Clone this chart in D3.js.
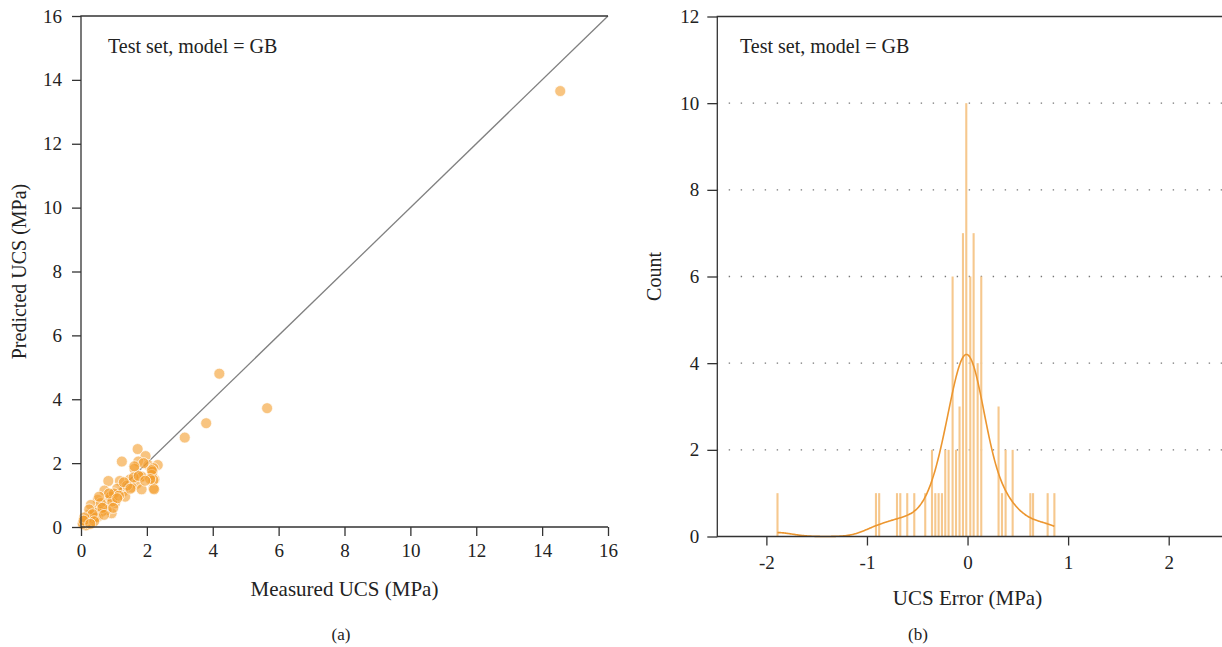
<!DOCTYPE html>
<html>
<head>
<meta charset="utf-8">
<script src="https://cdn.jsdelivr.net/npm/d3@7"></script>
<style>
  body { margin: 0; background: #fff; }
  text { font-family: "Liberation Serif", "DejaVu Serif", serif; fill: #222; }
</style>
</head>
<body>
<script>
// ---- panel (a): measured vs predicted UCS, test set ----
const measured = [14.55, 4.2, 5.65, 3.15, 3.8,
  1.72, 1.24, 1.96, 1.74, 2.04, 2.33, 2.20, 1.62, 2.17, 1.82, 0.83, 1.18, 1.49, 2.23, 1.69,
  1.54, 1.84, 2.20, 0.71, 0.93, 1.28, 1.34, 0.51, 0.83, 1.03, 0.30, 0.71, 0.53, 0.93, 0.78,
  0.22, 0.51, 0.22, 0.12, 0.07, 0.32, 0.37, 0.63, 2.15, 2.20, 1.84, 2.15, 2.22,
  0.42, 0.15, 0.05, 0.60, 0.90, 1.10, 1.00, 0.45, 0.95, 1.40, 1.60, 1.90, 0.25, 0.18, 0.35,
  1.15, 0.65, 1.30, 2.10, 1.75, 0.10, 0.85, 0.55, 0.08, 1.50, 1.95, 0.40, 0.28, 0.70, 1.10, 1.62, 0.98];
const predicted = [13.65, 4.8, 3.72, 2.8, 3.25,
  2.44, 2.05, 2.22, 2.05, 1.94, 1.94, 1.84, 1.82, 1.73, 1.56, 1.44, 1.44, 1.49, 1.49, 1.35,
  1.24, 1.18, 1.21, 1.14, 1.00, 1.11, 0.95, 0.85, 0.85, 0.74, 0.69, 0.64, 0.55, 0.43, 0.53,
  0.38, 0.32, 0.17, 0.22, 0.12, 0.12, 0.27, 0.48, 1.63, 1.47, 1.58, 1.78, 1.18,
  0.45, 0.05, 0.10, 0.75, 0.95, 1.20, 1.05, 0.30, 0.80, 1.30, 1.55, 2.00, 0.55, 0.25, 0.40,
  0.98, 0.60, 1.40, 1.50, 1.60, 0.30, 1.05, 0.95, 0.20, 1.20, 1.45, 0.18, 0.10, 0.38, 0.90, 1.90, 0.60];
const scatterTicks = [0, 2, 4, 6, 8, 10, 12, 14, 16];

// ---- panel (b): histogram of UCS error (bin centres, counts) ----
const errorBins = [-1.890, -0.911, -0.879, -0.702, -0.669, -0.600, -0.530, -0.421, -0.354, -0.321,
  -0.288, -0.255, -0.222, -0.189, -0.149, -0.115, -0.080, -0.046, -0.013, 0.027,
  0.060, 0.100, 0.136, 0.308, 0.342, 0.378, 0.448, 0.624, 0.651, 0.796, 0.863];
const errorCounts = [1, 1, 1, 1, 1, 1, 1, 1, 2, 1,
  1, 1, 2, 2, 6, 2, 3, 7, 10, 6,
  7, 4, 6, 3, 1, 2, 2, 1, 1, 1, 1];
const binWidth = 0.0336;
const errorTicks = [-2, -1, 0, 1, 2];
const countTicks = [0, 2, 4, 6, 8, 10, 12];

const W = 1222, H = 647;
const axisColor = "#333";

const svg = d3.select("body").append("svg")
  .attr("width", W).attr("height", H);

function styleAxis(g) {
  g.select(".domain").remove();
  g.selectAll(".tick line").attr("stroke", axisColor).attr("stroke-width", 1.3);
  g.selectAll(".tick text").style("font-size", "19px").attr("fill", "#222")
    .style("font-family", "'Liberation Serif', serif");
}

// ================= panel (a) =================
const xa = d3.scaleLinear().domain([0, 16]).range([81, 608]);
const ya = d3.scaleLinear().domain([0, 16]).range([527, 16]);

const ga = svg.append("g");

ga.append("line")
  .attr("x1", xa(0)).attr("y1", ya(0)).attr("x2", xa(16)).attr("y2", ya(16))
  .attr("stroke", "#808080").attr("stroke-width", 1.3);

ga.selectAll("circle.pt")
  .data(d3.range(measured.length))
  .enter().append("circle")
  .attr("class", "pt")
  .attr("cx", i => xa(measured[i]))
  .attr("cy", i => ya(predicted[i]))
  .attr("r", 5.5)
  .attr("fill", "#f39c2b")
  .attr("fill-opacity", 0.6)
  .attr("stroke", "#fff")
  .attr("stroke-width", 0.7);

ga.append("g").attr("transform", "translate(0,527)")
  .call(d3.axisBottom(xa).tickValues(scatterTicks).tickSize(9).tickPadding(8))
  .call(styleAxis);
ga.append("g").attr("transform", "translate(81,0)")
  .call(d3.axisLeft(ya).tickValues(scatterTicks).tickSize(9).tickPadding(10))
  .call(styleAxis);

// spines: left, bottom, top
ga.append("path")
  .attr("d", `M${xa(16)},${ya(16)}H${xa(0)}V${ya(0)}H${xa(16)}`)
  .attr("fill", "none").attr("stroke", axisColor).attr("stroke-width", 1.3);

ga.append("text").attr("x", 108).attr("y", 53)
  .style("font-size", "20px").text("Test set, model = GB");
ga.append("text").attr("x", (xa(0) + xa(16)) / 2).attr("y", 596)
  .attr("text-anchor", "middle").style("font-size", "21px").text("Measured UCS (MPa)");
ga.append("text").attr("transform", `translate(26,${(ya(0) + ya(16)) / 2}) rotate(-90)`)
  .attr("text-anchor", "middle").style("font-size", "20px").text("Predicted UCS (MPa)");
ga.append("text").attr("x", 341).attr("y", 640)
  .attr("text-anchor", "middle").style("font-size", "17px").text("(a)");

// ================= panel (b) =================
const xb = d3.scaleLinear().domain([-2.488, 2.53]).range([717.3, 1222]);
const yb = d3.scaleLinear().domain([0, 12]).range([536.5, 16.5]);

const gb = svg.append("g");

// dotted grid lines
gb.selectAll("line.grid")
  .data(countTicks.filter(v => v > 0 && v < 12))
  .enter().append("line")
  .attr("class", "grid")
  .attr("x1", xb.range()[0]).attr("x2", W)
  .attr("y1", d => yb(d)).attr("y2", d => yb(d))
  .attr("stroke", "#777").attr("stroke-width", 1.4)
  .attr("stroke-dasharray", "1.4 10.6")
  .attr("stroke-dashoffset", -11.4);

// histogram bars
gb.selectAll("rect.bar")
  .data(d3.range(errorBins.length))
  .enter().append("rect")
  .attr("class", "bar")
  .attr("x", i => xb(errorBins[i]) - 1)
  .attr("width", 2.1)
  .attr("y", i => yb(errorCounts[i]))
  .attr("height", i => yb(0) - yb(errorCounts[i]))
  .attr("fill", "#f6c88e");

// kde scaled to counts (gaussian, Scott bandwidth, cut at data range)
const samples = [];
errorBins.forEach((v, i) => { for (let k = 0; k < errorCounts[i]; k++) samples.push(v); });
const n = samples.length;
const sd = d3.deviation(samples);
const bw = sd * Math.pow(n, -1 / 5) * 0.95;
const lo = d3.min(samples), hi = d3.max(samples);
const grid = d3.range(0, 201).map(k => lo + (hi - lo) * k / 200);
const kde = grid.map(x => {
  let s = 0;
  for (const v of samples) { const z = (x - v) / bw; s += Math.exp(-0.5 * z * z); }
  return [x, s / (n * bw * Math.sqrt(2 * Math.PI)) * n * binWidth];
});
gb.append("path")
  .datum(kde)
  .attr("d", d3.line().x(d => xb(d[0])).y(d => yb(d[1])).curve(d3.curveBasis))
  .attr("fill", "none").attr("stroke", "#ec962f").attr("stroke-width", 1.6);

gb.append("g").attr("transform", `translate(0,${yb(0)})`)
  .call(d3.axisBottom(xb).tickValues(errorTicks).tickSize(9).tickPadding(10)
    .tickFormat(d => d < 0 ? "-" + Math.abs(d) : d))
  .call(styleAxis);
gb.append("g").attr("transform", `translate(${xb.range()[0]},0)`)
  .call(d3.axisLeft(yb).tickValues(countTicks).tickSize(10).tickPadding(8))
  .call(styleAxis);

gb.append("path")
  .attr("d", `M${W},${yb(12)}H${xb.range()[0]}V${yb(0)}H${W}`)
  .attr("fill", "none").attr("stroke", axisColor).attr("stroke-width", 1.3);

gb.append("text").attr("x", 740).attr("y", 53)
  .style("font-size", "20px").text("Test set, model = GB");
gb.append("text").attr("x", xb(0)).attr("y", 605)
  .attr("text-anchor", "middle").style("font-size", "21px").text("UCS Error (MPa)");
gb.append("text").attr("transform", `translate(661,${(yb(0) + yb(12)) / 2}) rotate(-90)`)
  .attr("text-anchor", "middle").style("font-size", "20px").text("Count");
gb.append("text").attr("x", 918).attr("y", 640)
  .attr("text-anchor", "middle").style("font-size", "17px").text("(b)");
</script>
</body>
</html>
